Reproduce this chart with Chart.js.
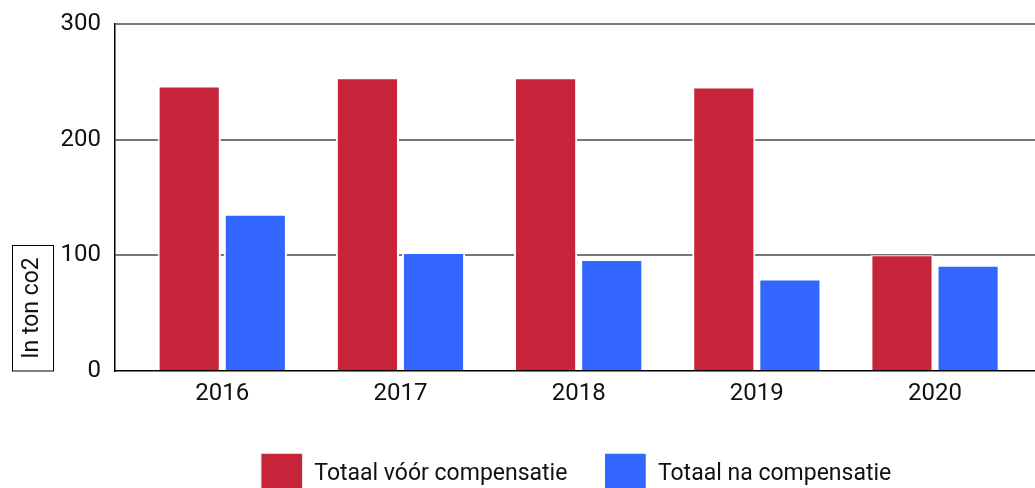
<!DOCTYPE html>
<html>
<head>
<meta charset="utf-8">
<script src="https://cdn.jsdelivr.net/npm/chart.js@4/dist/chart.umd.min.js"></script>
<style>
  html, body { margin: 0; padding: 0; background: #fff; }
  #wrap { width: 1035px; height: 488px; }
</style>
</head>
<body>
<div id="wrap"><canvas id="co2Chart"></canvas></div>
<script>
// data
const years = ['2016', '2017', '2018', '2019', '2020'];
const beforeComp = [246, 253, 253, 245, 100];
const afterComp = [135, 102, 96, 79, 91];
const yTicks = [0, 100, 200, 300];
const yTitle = 'In ton co2';

const RED = '#c5243b';
const BLUE = '#3366ff';
const FONT = 'Roboto, "Noto Sans", sans-serif';

// boxed y axis title, drawn at the bottom left
const boxedTitle = {
    id: 'boxedTitle',
    afterDraw(chart) {
        const ctx = chart.ctx;
        const bottom = chart.chartArea.bottom;
        ctx.save();
        ctx.strokeStyle = '#000';
        ctx.lineWidth = 1;
        ctx.strokeRect(12.5, bottom - 125.5, 41, 125.5);
        ctx.translate(31, bottom - 63);
        ctx.rotate(-Math.PI / 2);
        ctx.fillStyle = '#111';
        ctx.font = '23px ' + FONT;
        ctx.textAlign = 'center';
        ctx.textBaseline = 'middle';
        ctx.fillText(yTitle, 0, 1);
        ctx.restore();
    }
};

// legend: fixed height, nudged right a little
const legendFix = {
    id: 'legendFix',
    afterInit(chart) {
        const lg = chart.legend;
        const fit = lg.fit;
        lg.fit = function () {
            fit.call(this);
            this.height = 72;
        };
    },
    afterLayout(chart) {
        chart.legend.left += 1;
        chart.legend.right += 1;
    }
};

const toPoints = arr => arr.map((v, i) => ({ x: i, y: v }));

const barStyle = {
    borderColor: '#fff',
    borderWidth: { top: 1, left: 2, right: 2, bottom: 0 },
    categoryPercentage: 0.742,
    barPercentage: 0.955
};

new Chart(document.getElementById('co2Chart').getContext('2d'), {
    type: 'bar',
    data: {
        datasets: [{
            label: 'Totaal vóór compensatie',
            data: toPoints(beforeComp),
            backgroundColor: RED,
            ...barStyle
        }, {
            label: 'Totaal na compensatie',
            data: toPoints(afterComp),
            backgroundColor: BLUE,
            ...barStyle
        }]
    },
    options: {
        responsive: true,
        maintainAspectRatio: false,
        animation: false,
        layout: { padding: { top: 24, left: 0, right: 0, bottom: 0 } },
        plugins: {
            tooltip: { enabled: false },
            legend: {
                position: 'bottom',
                fullSize: false,
                labels: {
                    color: '#111',
                    font: { family: FONT, size: 23 },
                    boxWidth: 42,
                    boxHeight: 42,
                    padding: 37
                }
            }
        },
        scales: {
            x: {
                type: 'linear',
                offset: false,
                min: -0.602,
                max: 4.561,
                afterBuildTicks: s => { s.ticks = years.map((_, i) => ({ value: i })); },
                afterFit: s => { s.height = 45; },
                ticks: {
                    color: '#111',
                    font: { family: FONT, size: 24 },
                    padding: 9,
                    callback: v => years[v]
                },
                grid: { display: false, drawTicks: false },
                border: { color: '#000', width: 1.5 }
            },
            y: {
                min: 0,
                max: 300,
                afterBuildTicks: s => { s.ticks = yTicks.map(v => ({ value: v })); },
                afterFit: s => {
                    s.width = 115;
                    s.paddingTop = 0;
                    s.paddingBottom = 0;
                },
                ticks: {
                    color: '#111',
                    font: { family: FONT, size: 24 },
                    padding: 14
                },
                grid: {
                    drawTicks: false,
                    color: c => c.tick.value === 0 ? 'rgba(0,0,0,0)' : '#777',
                    lineWidth: 2
                },
                border: { color: '#000', width: 1.5 }
            }
        }
    },
    plugins: [boxedTitle, legendFix]
});
</script>
</body>
</html>
